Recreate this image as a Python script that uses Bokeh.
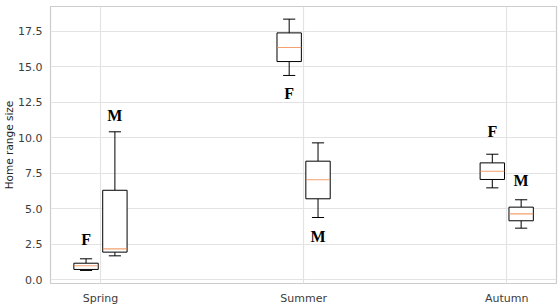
from bokeh.plotting import figure
from bokeh.models import FixedTicker, NumeralTickFormatter, Range1d, ColumnDataSource
from bokeh.core.properties import value
from bokeh.embed import file_html
from bokeh.resources import INLINE

seasons = ["Spring", "Summer", "Autumn"]
positions = [1, 2, 3]

f_whislo = [0.66, 14.40, 6.48]
f_q1 = [0.73, 15.38, 7.07]
f_med = [0.99, 16.37, 7.65]
f_q3 = [1.17, 17.40, 8.24]
f_whishi = [1.48, 18.37, 8.85]

m_whislo = [1.69, 4.39, 3.64]
m_q1 = [1.95, 5.71, 4.16]
m_med = [2.18, 7.05, 4.65]
m_q3 = [6.31, 8.36, 5.12]
m_whishi = [10.43, 9.65, 5.64]

f_label_y = [2.85, 13.10, 10.45]
m_label_y = [11.58, 3.05, 7.00]

y_ticks = [0.0, 2.5, 5.0, 7.5, 10.0, 12.5, 15.0, 17.5]

OFFSET = 0.071
BOX_W = 0.12
CAP_W = BOX_W / 2

p = figure(width=559, height=308, output_backend="svg", toolbar_location=None,
           x_range=Range1d(0.754, 3.245), y_range=Range1d(-0.26, 19.26))
p.min_border_left = 50
p.min_border_right = 3
p.min_border_top = 6
p.min_border_bottom = 25
p.background_fill_color = "white"
p.border_fill_color = "white"
p.outline_line_color = "#cccccc"
p.outline_line_width = 1.2

p.xaxis.ticker = FixedTicker(ticks=positions)
p.xaxis.major_label_overrides = {pos: s for pos, s in zip(positions, seasons)}
p.yaxis.ticker = FixedTicker(ticks=y_ticks)
p.yaxis.formatter = NumeralTickFormatter(format="0.0")
for ax in (p.xaxis, p.yaxis):
    ax.axis_line_color = None
    ax.major_tick_line_color = None
    ax.minor_tick_line_color = None
    ax.major_tick_in = 0
    ax.major_tick_out = 0
    ax.major_label_text_font = "DejaVu Sans"
    ax.major_label_text_font_size = "11px"
    ax.major_label_text_color = "#3c3c3c"
p.yaxis.major_label_standoff = 8
p.xaxis.major_label_standoff = 8
p.yaxis.axis_label = "Home range size"
p.yaxis.axis_label_text_font = "DejaVu Sans"
p.yaxis.axis_label_text_font_size = "10.5px"
p.yaxis.axis_label_text_font_style = "normal"
p.yaxis.axis_label_text_color = "#262626"
p.yaxis.axis_label_standoff = 0

p.xgrid.ticker = FixedTicker(ticks=positions)
p.ygrid.ticker = FixedTicker(ticks=y_ticks)
p.xgrid.grid_line_color = "#e3e3e3"
p.ygrid.grid_line_color = "#e3e3e3"
p.xgrid.grid_line_width = 1.2
p.ygrid.grid_line_width = 1.2


def draw(xs, lo, q1, med, q3, hi, label_y, label):
    src = ColumnDataSource(dict(
        x=xs, left=[x - BOX_W / 2 for x in xs], right=[x + BOX_W / 2 for x in xs],
        cl=[x - CAP_W / 2 for x in xs], cr=[x + CAP_W / 2 for x in xs],
        lo=lo, q1=q1, med=med, q3=q3, hi=hi, ly=label_y, t=[label] * len(xs)))
    p.segment(x0="x", y0="q3", x1="x", y1="hi", source=src, line_color="black", line_width=1)
    p.segment(x0="x", y0="lo", x1="x", y1="q1", source=src, line_color="black", line_width=1)
    p.segment(x0="cl", y0="hi", x1="cr", y1="hi", source=src, line_color="black", line_width=1)
    p.segment(x0="cl", y0="lo", x1="cr", y1="lo", source=src, line_color="black", line_width=1)
    p.quad(left="left", right="right", bottom="q1", top="q3", source=src,
           fill_color="white", line_color="black", line_width=1)
    p.segment(x0="left", y0="med", x1="right", y1="med", source=src,
              line_color="#f08a4b", line_width=1.2, line_alpha=0.8)
    p.text(x="x", y="ly", text="t", source=src, text_align="center", text_baseline="middle",
           text_font=value("Liberation Serif"), text_font_style="bold",
           text_font_size="16px", text_color="black")


draw([pos - OFFSET for pos in positions], f_whislo, f_q1, f_med, f_q3, f_whishi, f_label_y, "F")
draw([pos + OFFSET for pos in positions], m_whislo, m_q1, m_med, m_q3, m_whishi, m_label_y, "M")

open("out.html", "w").write(file_html(p, INLINE))
